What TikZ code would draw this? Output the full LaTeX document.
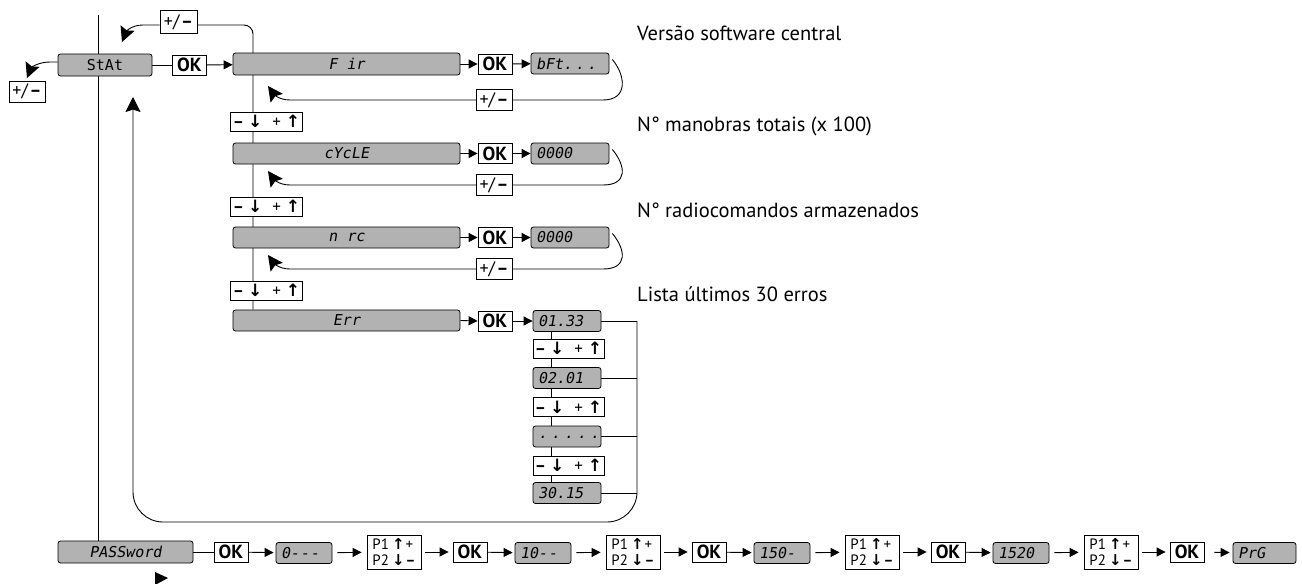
\documentclass[tikz,border=0pt]{standalone}
\usepackage{fontspec}
\setmainfont{PT Sans}
\newfontfamily\arr{DejaVu Sans}
\newfontfamily\seg[FakeSlant=0.18]{DejaVu Sans Mono}
\newfontfamily\segu{DejaVu Sans Mono}
\usetikzlibrary{arrows.meta,backgrounds}
\definecolor{dispgray}{RGB}{178,178,178}
\newcommand{\pmtxt}{+/\hspace{1pt}\textbf{–}}
\newcommand{\udtxt}{\textbf{–}\hspace{4pt}{\arr\bfseries ↓}\hspace{10pt}+\hspace{5pt}{\arr\bfseries ↑}}
\newcommand{\pptxt}{P1\hspace{3pt}{\arr\bfseries ↑}\hspace{1pt}+\\P2\hspace{3pt}{\arr\bfseries ↓}\hspace{1pt}\textbf{–}}
\tikzset{
 ln/.style={line width=0.9pt},
 disp/.style={draw, fill=dispgray, rounded corners=2.5pt, line width=0.8pt, inner sep=0pt, minimum height=21pt, font=\seg\fontsize{15}{15}\selectfont},
 dispL/.style={disp, text width=#1, align=left, inner xsep=5pt},
 okbox/.style={draw, fill=white, line width=0.8pt, inner sep=0pt, minimum width=34pt, minimum height=20pt, font=\bfseries\fontsize{19}{19}\selectfont},
 pmbox/.style={draw, fill=white, line width=0.8pt, inner sep=0pt, minimum width=36pt, minimum height=21pt, font=\fontsize{18}{18}\selectfont},
 udbox/.style={draw, fill=white, line width=0.8pt, inner sep=0pt, minimum width=72pt, minimum height=19pt, font=\fontsize{17}{17}\selectfont},
 ppbox/.style={draw, fill=white, line width=0.8pt, inner xsep=2pt, inner ysep=0pt, minimum width=54pt, minimum height=34pt, align=left, font=\fontsize{15}{16}\selectfont},
 lbl/.style={anchor=west, inner sep=0pt, font=\fontsize{20.5}{20.5}\selectfont},
 sa/.style={ln, -{Triangle[length=9pt,width=9pt]}},
 ba/.style={ln, -{Stealth[length=15pt,width=15pt,inset=2.5pt]}},
}
\begin{document}
\begin{tikzpicture}[x=1pt,y=-1pt]
\useasboundingbox (0,0) rectangle (1302,584);
% top-left
\node[disp, font=\segu\fontsize{15}{15}\selectfont, minimum width=94pt, minimum height=22pt] (stat) at (105,65) {StAt};
\node[okbox] (ok0) at (189.5,65) {OK};
\node[pmbox, minimum width=37pt, minimum height=23pt] (pmA) at (178.5,22) {\pmtxt};
\node[pmbox] (pmB) at (27,91.5) {\pmtxt};
% Fir row
\node[disp, minimum width=227pt, minimum height=22pt] (fir) at (346.5,64) {F ir};
\node[okbox] (okf) at (495,64) {OK};
\node[dispL=68pt] (bft) at (570,63.5) {bFt.\hspace{3pt}.\hspace{3pt}.};
\node[pmbox] (pmf) at (494,100) {\pmtxt};
\node[udbox] (ud1) at (266.5,121.5) {\udtxt};
% cycle row
\node[disp, minimum width=227pt] (cyc) at (346.5,153.5) {cYcLE};
\node[okbox] (okc) at (495,153.5) {OK};
\node[dispL=68pt] (v1) at (570,153.5) {0000};
\node[pmbox] (pmc) at (494,185) {\pmtxt};
\node[udbox] (ud2) at (266.5,206.5) {\udtxt};
% n rc row
\node[disp, minimum width=227pt] (nrc) at (346.5,237.5) {\raisebox{-4pt}{n rc}};
\node[okbox] (okn) at (495,237.5) {OK};
\node[dispL=68pt] (v2) at (570,237.5) {0000};
\node[pmbox] (pmn) at (494,269) {\pmtxt};
\node[udbox] (ud3) at (266.5,290.5) {\udtxt};
% Err row
\node[disp, minimum width=227pt] (err) at (346.5,320.5) {Err};
\node[okbox] (oke) at (495,321) {OK};
\node[dispL=58pt] (e1) at (567,321) {01.33};
\node[udbox, minimum width=71pt] (eu1) at (568.5,348.5) {\udtxt};
\node[dispL=58pt] (e2) at (567,378) {02.01};
\node[udbox, minimum width=71pt] (eu2) at (568.5,407) {\udtxt};
\node[dispL=58pt] (e3) at (567,436.5) {\raisebox{-4pt}{.\hspace{4pt}.\hspace{4pt}.\hspace{4pt}.\hspace{4pt}.}};
\node[udbox, minimum width=71pt] (eu3) at (568.5,465.5) {\udtxt};
\node[dispL=58pt] (e4) at (567,493) {30.15};
% labels
\node[lbl] (l1) at (637,33) {Versão software central};
\node[lbl] (l2) at (637,126) {N° manobras totais (x 100)};
\node[lbl] (l3) at (637,210) {N° radiocomandos armazenados};
\node[lbl] (l4) at (637,294) {Lista últimos 30 erros};
% bottom row
\node[disp, minimum width=135pt, minimum height=22pt] (pw) at (125.5,552) {PASSword};
\node[okbox] (okp0) at (231,552) {OK};
\node[dispL=46pt] (d0) at (304,553) {0-\hspace{1pt}-\hspace{1pt}-};
\node[ppbox] (p0) at (394,552) {\pptxt};
\node[okbox] (okp1) at (470,552) {OK};
\node[dispL=46pt] (d1) at (543,553) {10-\hspace{1pt}-};
\node[ppbox] (p1) at (633,552) {\pptxt};
\node[okbox] (okp2) at (709,552) {OK};
\node[dispL=46pt] (d2) at (782,553) {150-};
\node[ppbox] (p2) at (872,552) {\pptxt};
\node[okbox] (okp3) at (948,552) {OK};
\node[dispL=46pt] (d3) at (1021,553) {1520};
\node[ppbox] (p3) at (1111,552) {\pptxt};
\node[okbox] (okp4) at (1187,552) {OK};
\node[dispL=53pt] (prg) at (1264.5,553) {PrG};
% free ends
\coordinate (topL) at (98,15);
\coordinate (vx) at (253,25);
\coordinate (tA) at (122,42);
\coordinate (tB) at (27,78);
\coordinate (t1) at (268,86);
\coordinate (t2) at (268,171);
\coordinate (t3) at (268,255);
\coordinate (xr) at (637,321);
\coordinate (cx) at (551,321);
\coordinate (tC) at (133,97);
\begin{scope}[on background layer]
\draw[ln] (topL) -- (topL |- pw.north);
\draw[ln, rounded corners=9pt] ([yshift=-3pt]pmA.east) -- (vx) -- (vx |- err.north);
\draw[ba] ([yshift=-3pt]pmA.west) -- (143,25) .. controls (131,25) and (126,32) .. (tA);
\draw[ba] ([yshift=3pt]stat.west) -- (50,62) .. controls (38,62) and (31,68) .. (tB);
\draw[ln] (stat) -- (ok0);
\draw[sa] (ok0) -- (fir);
% rows
\draw[sa] (fir) -- (okf); \draw[sa] (okf) -- (bft);
\draw[sa] (cyc) -- (okc); \draw[sa] (okc) -- (v1);
\draw[sa] (nrc) -- (okn); \draw[sa] (okn) -- (v2);
\draw[sa] (err.east) -- (oke.west); \draw[sa] (oke) -- (e1);
\draw[ba] ([xshift=3pt,yshift=4pt]bft.east) .. controls (626,76) and (628,100) .. (603,100) -- (290,100) .. controls (278,100) and (273,93) .. (t1);
\draw[ba] ([xshift=3pt,yshift=4pt]v1.east) .. controls (626,166) and (628,185) .. (603,185) -- (290,185) .. controls (278,185) and (273,178) .. (t2);
\draw[ba] ([xshift=3pt,yshift=4pt]v2.east) .. controls (626,250) and (628,269) .. (603,269) -- (290,269) .. controls (278,269) and (273,262) .. (t3);
% error column
\draw[ln] (cx) -- (cx |- e4.north);
\draw[ln] (e1.east) -- (xr);
\draw[ln] (e2.east) -- (e2.east -| xr);
\draw[ln] (e3.east) -- (e3.east -| xr);
\draw[ln] (e4.east) -- (e4.east -| xr);
\draw[ba, rounded corners=30pt] (xr) -- (637,522) -- (133,522) -- (tC);
% bottom
\draw[ln] (pw) -- (okp0);
\draw[sa, shorten >=2pt] (okp0) -- (d0);
\draw[sa, shorten <=5pt, shorten >=5pt] (d0) -- (p0);
\draw[sa, shorten <=4pt, shorten >=4pt] (p0) -- (okp1);
\draw[sa, shorten >=2pt] (okp1) -- (d1);
\draw[sa, shorten <=5pt, shorten >=5pt] (d1) -- (p1);
\draw[sa, shorten <=4pt, shorten >=4pt] (p1) -- (okp2);
\draw[sa, shorten >=2pt] (okp2) -- (d2);
\draw[sa, shorten <=5pt, shorten >=5pt] (d2) -- (p2);
\draw[sa, shorten <=4pt, shorten >=4pt] (p2) -- (okp3);
\draw[sa, shorten >=2pt] (okp3) -- (d3);
\draw[sa, shorten <=5pt, shorten >=5pt] (d3) -- (p3);
\draw[sa, shorten <=4pt, shorten >=4pt] (p3) -- (okp4);
\draw[sa, shorten <=10pt, shorten >=3pt] (okp4) -- (prg);
\end{scope}
\fill (155,572) -- (168,578) -- (155,585) -- cycle;
\end{tikzpicture}
\end{document}
